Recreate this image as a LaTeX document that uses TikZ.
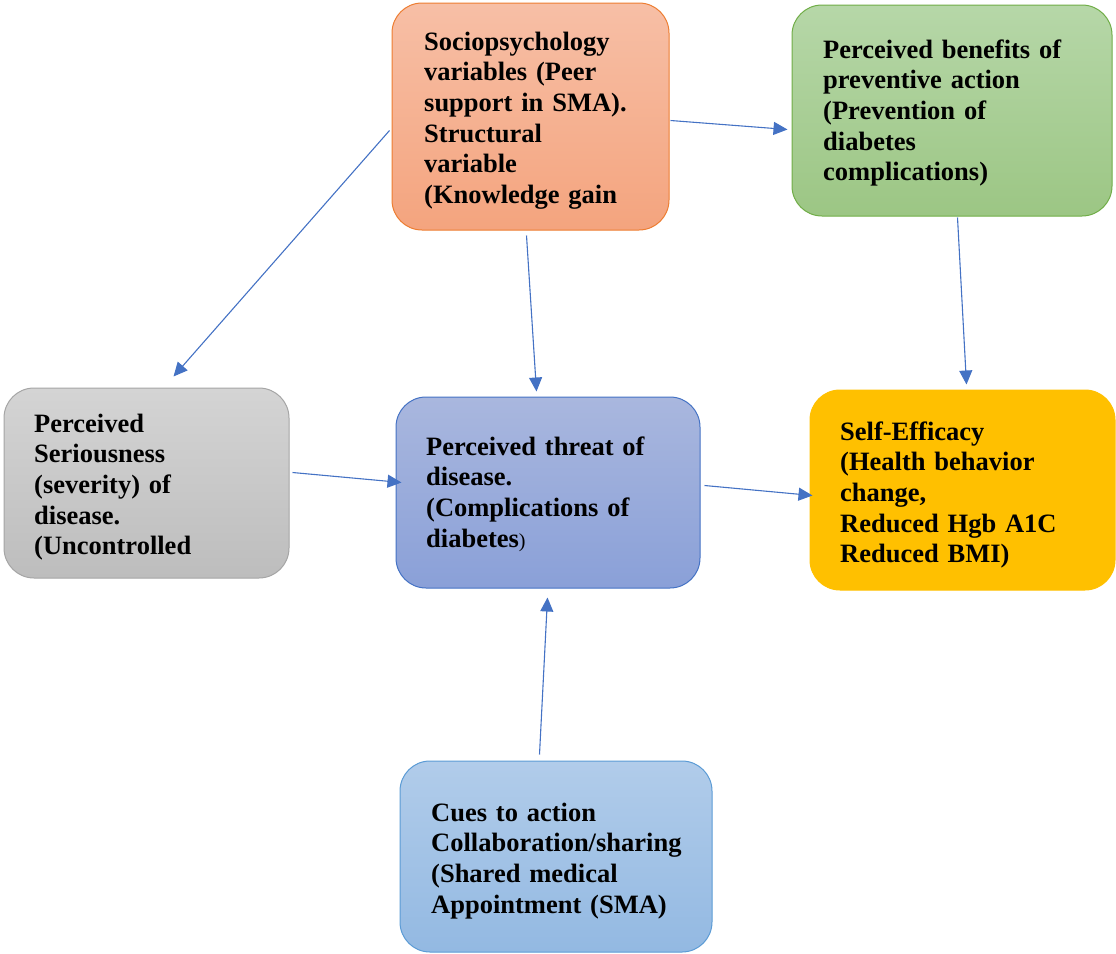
\documentclass[tikz,border=0pt]{standalone}
\usepackage{fontspec}
\setmainfont{Liberation Serif}
\usetikzlibrary{arrows.meta}
\definecolor{arrc}{HTML}{4472C4}
\definecolor{oTop}{HTML}{F7BFA6}
\definecolor{oBot}{HTML}{F4A47E}
\definecolor{oLine}{HTML}{ED7D31}
\definecolor{gTop}{HTML}{B6D7A8}
\definecolor{gBot}{HTML}{9CC684}
\definecolor{gLine}{HTML}{70AD47}
\definecolor{sTop}{HTML}{D4D4D4}
\definecolor{sBot}{HTML}{BDBDBD}
\definecolor{sLine}{HTML}{A5A5A5}
\definecolor{tTop}{HTML}{A9B7DE}
\definecolor{tBot}{HTML}{8AA0D8}
\definecolor{tLine}{HTML}{4472C4}
\definecolor{cTop}{HTML}{B1CCEA}
\definecolor{cBot}{HTML}{93B9E2}
\definecolor{cLine}{HTML}{5B9BD5}
\definecolor{yFill}{HTML}{FFC000}
\tikzset{
  box/.style={rectangle, rounded corners=30pt, line width=1pt, inner sep=0pt},
  txt/.style={anchor=base west, inner sep=0pt, text width=300pt, align=left,
              font=\fontsize{26.5}{30.7}\selectfont\bfseries},
  arr/.style={draw=arrc, line width=1.1pt, -{Triangle[length=14pt,width=13pt]}}
}
\begin{document}
\begin{tikzpicture}[x=1pt,y=-1pt]
\useasboundingbox (0,0) rectangle (1116,953);
% boxes
\node[box, draw=oLine, top color=oTop, bottom color=oBot,
      minimum width=277pt, minimum height=227pt] (o) at (530.5,116.5) {};
\node[box, draw=gLine, top color=gTop, bottom color=gBot,
      minimum width=320pt, minimum height=211pt] (g) at (952,110.5) {};
\node[box, draw=sLine, top color=sTop, bottom color=sBot,
      minimum width=285pt, minimum height=190pt] (s) at (146.5,483) {};
\node[box, draw=tLine, top color=tTop, bottom color=tBot,
      minimum width=304pt, minimum height=191pt] (t) at (548,492.5) {};
\node[box, draw=yFill, fill=yFill,
      minimum width=305pt, minimum height=200pt] (y) at (962.5,490) {};
\node[box, draw=cLine, top color=cTop, bottom color=cBot,
      minimum width=312pt, minimum height=191pt] (c) at (556,856.5) {};
% texts
\node[txt] (ot) at (424,50) {Sociopsychology\\variables (Peer\\support in SMA).\\Structural\\variable\\(Knowledge gain};
\node[txt] (gt) at (823,58) {Perceived benefits of\\preventive action\\(Prevention of\\diabetes\\complications)};
\node[txt] (st) at (34,432) {Perceived\\Seriousness\\(severity) of\\disease.\\(Uncontrolled};
\node[txt] (tt) at (426,455) {Perceived threat of\\disease.\\(Complications of\\diabetes{\mdseries\fontsize{20}{30.7}\selectfont)}};
\node[txt] (yt) at (840,440) {Self-Efficacy\\(Health behavior\\change,\\Reduced Hgb A1C\\Reduced BMI)};
\node[txt] (ct) at (431,821) {Cues to action\\Collaboration/sharing\\(Shared medical\\Appointment (SMA)};
% arrows
\draw[arr] ([shift={(-2,128)}]o.north west) -- ([shift={(170,-11)}]s.north west);
\draw[arr] ([shift={(135,5)}]o.south west) -- ([shift={(141,-5)}]t.north west);
\draw[arr] ([shift={(1,118)}]o.north east) -- ([shift={(-4,125)}]g.north west);
\draw[arr] ([shift={(166,1)}]g.south west) -- ([shift={(157,-5)}]y.north west);
\draw[arr] ([shift={(3,85)}]s.north east) -- ([shift={(6,86)}]t.north west);
\draw[arr] ([shift={(4,89)}]t.north east) -- ([shift={(3,106)}]y.north west);
\draw[arr] ([shift={(140,-6)}]c.north west) -- ([shift={(152,9)}]t.south west);
\end{tikzpicture}
\end{document}
